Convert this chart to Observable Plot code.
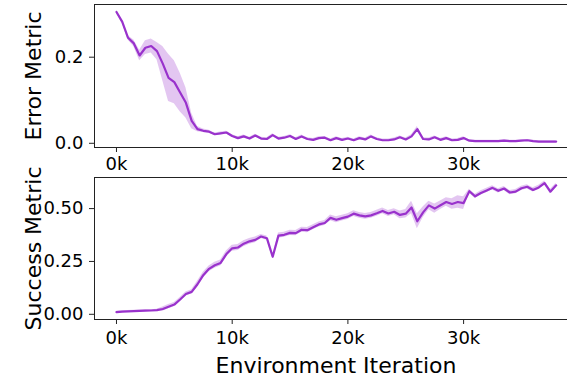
<!DOCTYPE html>
<html><head><meta charset="utf-8">
<script src="https://cdn.jsdelivr.net/npm/d3@7"></script>
<script src="https://cdn.jsdelivr.net/npm/@observablehq/plot@0.6"></script>
<style>
body{margin:0;background:#fff}
#chart{width:567px;height:381px;overflow:hidden}
#chart svg{display:block}
</style>
</head><body><div id="chart"></div><script>
// Environment iteration, in thousands
const iterationsK = [0,0.5,1,1.5,2,2.5,3,3.5,4,4.5,5,5.5,6,6.5,7,7.5,8,8.5,9,9.5,
  10,10.5,11,11.5,12,12.5,13,13.5,14,14.5,15,15.5,16,16.5,17,17.5,18,18.5,19,19.5,
  20,20.5,21,21.5,22,22.5,23,23.5,24,24.5,25,25.5,26,26.5,27,27.5,28,28.5,29,29.5,
  30,30.5,31,31.5,32,32.5,33,33.5,34,34.5,35,35.5,36,36.5,37,37.5,38];

const errorMean = [0.305,0.282,0.245,0.232,0.204,0.222,0.226,0.214,0.185,0.152,
  0.142,0.118,0.094,0.052,0.033,0.029,0.027,0.021,0.023,0.025,
  0.017,0.012,0.016,0.011,0.018,0.011,0.010,0.019,0.011,0.013,
  0.017,0.010,0.016,0.010,0.008,0.012,0.013,0.007,0.012,0.008,
  0.011,0.007,0.012,0.009,0.016,0.010,0.007,0.007,0.009,0.014,
  0.009,0.016,0.033,0.010,0.009,0.014,0.008,0.012,0.007,0.008,
  0.012,0.006,0.005,0.005,0.005,0.005,0.005,0.006,0.005,0.005,
  0.006,0.007,0.005,0.004,0.004,0.004,0.004];
const errorBand = [0.003,0.004,0.005,0.008,0.012,0.016,0.016,0.020,0.040,0.055,
  0.050,0.045,0.035,0.018,0.006,0.004,0.003,0.003,0.003,0.003,
  0.003,0.003,0.003,0.003,0.003,0.003,0.003,0.003,0.003,0.003,
  0.003,0.003,0.003,0.003,0.003,0.003,0.003,0.003,0.003,0.003,
  0.003,0.003,0.003,0.003,0.003,0.003,0.003,0.003,0.003,0.003,
  0.003,0.004,0.006,0.003,0.003,0.003,0.003,0.003,0.003,0.003,
  0.003,0.002,0.002,0.002,0.002,0.002,0.002,0.002,0.002,0.002,
  0.002,0.002,0.002,0.002,0.002,0.002,0.002];

const successMean = [0.010,0.013,0.014,0.015,0.016,0.017,0.018,0.020,0.025,0.036,
  0.046,0.070,0.096,0.106,0.142,0.185,0.215,0.232,0.243,0.285,
  0.312,0.316,0.334,0.345,0.352,0.368,0.360,0.272,0.372,0.376,
  0.385,0.384,0.400,0.398,0.412,0.425,0.432,0.456,0.447,0.455,
  0.462,0.476,0.468,0.463,0.468,0.478,0.489,0.477,0.485,0.470,
  0.476,0.505,0.440,0.482,0.515,0.500,0.516,0.531,0.522,0.531,
  0.526,0.582,0.558,0.574,0.586,0.598,0.584,0.595,0.576,0.580,
  0.596,0.603,0.588,0.600,0.620,0.580,0.610];
const successBand = [0.004,0.004,0.004,0.004,0.004,0.004,0.004,0.004,0.010,0.010,
  0.010,0.010,0.010,0.010,0.014,0.014,0.014,0.014,0.014,0.014,
  0.014,0.014,0.014,0.014,0.014,0.010,0.010,0.004,0.012,0.012,
  0.012,0.012,0.012,0.012,0.012,0.012,0.012,0.014,0.014,0.014,
  0.014,0.014,0.014,0.014,0.014,0.014,0.014,0.014,0.014,0.018,
  0.020,0.030,0.035,0.025,0.020,0.022,0.020,0.020,0.025,0.030,
  0.030,0.010,0.010,0.010,0.010,0.010,0.010,0.010,0.010,0.010,
  0.010,0.010,0.010,0.010,0.010,0.010,0.010];

const xTicks = [0,10,20,30];
const xTickLabels = ["0k","10k","20k","30k"];
const errorTicks = [0,0.2];
const errorTickLabels = ["0.0","0.2"];
const successTicks = [0,0.25,0.5];
const successTickLabels = ["0.00","0.25","0.50"];

const lineColor = "#9932CC";
const axisColor = "#222";
const xDomain = [-1.9, 38.98];

function panel({mean, band, height, marginTop, marginBottom, yDomain, yTicks, yTickLabels, yLabel, xLabel, xPad}) {
  const data = iterationsK.map((x, i) => ({x, y: mean[i], lo: mean[i] - band[i], hi: mean[i] + band[i]}));
  const marks = [
    Plot.areaY(data, {x: "x", y1: "lo", y2: "hi", fill: lineColor, fillOpacity: 0.28}),
    Plot.lineY(data, {x: "x", y: "y", stroke: lineColor, strokeWidth: 2.2}),
    Plot.axisX({ticks: xTicks, tickFormat: d => xTickLabels[xTicks.indexOf(d)], tickSize: 5, tickPadding: xPad, label: null, stroke: axisColor}),
    Plot.axisY({ticks: yTicks, tickFormat: d => yTickLabels[yTicks.indexOf(d)], tickSize: 5, tickPadding: 6, label: null, stroke: axisColor}),
    Plot.ruleX([xDomain[0]], {stroke: axisColor}),
    Plot.ruleY([yDomain[0], yDomain[1]], {stroke: axisColor}),
    Plot.text([yLabel], {frameAnchor: "left", text: d => d, rotate: -90, textAnchor: "middle", dx: -61, fontSize: 22})
  ];
  if (xLabel) marks.push(Plot.text([xLabel], {frameAnchor: "bottom", text: d => d, textAnchor: "middle", lineAnchor: "top", dy: 38, dx: 5, fontSize: 22}));
  return Plot.plot({
    width: 567, height, marginTop, marginBottom, marginLeft: 94, marginRight: 0,
    style: {fontFamily: "DejaVu Sans", fontSize: "18px", color: "#000", background: "white", overflow: "visible"},
    x: {domain: xDomain},
    y: {domain: yDomain},
    marks
  });
}

const chart = document.getElementById("chart");
chart.appendChild(panel({mean: errorMean, band: errorBand, height: 172, marginTop: 4, marginBottom: 25, xPad: 5,
  yDomain: [-0.0098, 0.3224], yTicks: errorTicks, yTickLabels: errorTickLabels, yLabel: "Error Metric"}));
chart.appendChild(panel({mean: successMean, band: successBand, height: 209, marginTop: 5, marginBottom: 62, xPad: 7,
  yDomain: [-0.0246, 0.647], yTicks: successTicks, yTickLabels: successTickLabels, yLabel: "Success Metric", xLabel: "Environment Iteration"}));
</script></body></html>
